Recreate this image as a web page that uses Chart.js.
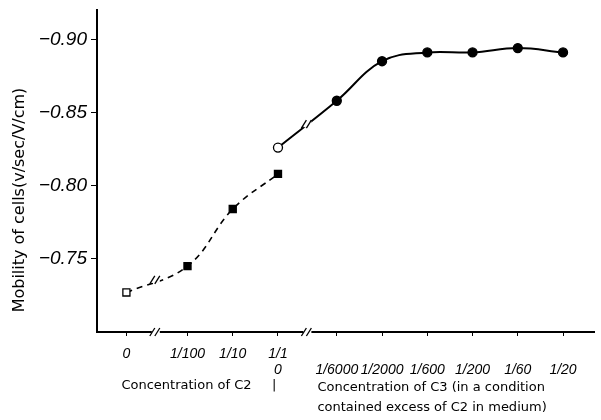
<!DOCTYPE html>
<html>
<head>
<meta charset="utf-8">
<script src="https://cdn.jsdelivr.net/npm/chart.js@4.4.1/dist/chart.umd.min.js"></script>
<style>
  body { margin: 0; background: #fff; }
  #wrap { width: 601px; height: 420px; }
</style>
</head>
<body>
<div id="wrap"><canvas id="myChart"></canvas></div>
<script>
// tick labels
var c2Labels = ["0", "1/100", "1/10", "1/1"];
var c3Labels = ["0", "1/6000", "1/2000", "1/600", "1/200", "1/60", "1/20"];
// where each concentration sits on the x axis (gaps left for the breaks)
var c2Pos = [0.65, 2, 3, 4];
var c3Pos = [4, 5.3, 6.3, 7.3, 8.3, 9.3, 10.3];
var breakPos = [1.3, 4.65];
// mobility of cells
var c2Values = [-0.727, -0.745, -0.784, -0.808];
var c3Values = [-0.826, -0.858, -0.885, -0.891, -0.891, -0.894, -0.891];
var yTicks = [-0.90, -0.85, -0.80, -0.75];

var xTickPos = c2Pos.concat(c3Pos.slice(1));
var xTickLabels = c2Labels.slice(0, 3).concat([[c2Labels[3], c3Labels[0]]]);
c3Labels.slice(1).forEach(function (l) { xTickLabels.push(["", l]); });

var toPoints = function (xs, ys) {
  return xs.map(function (x, i) { return { x: x, y: ys[i] }; });
};

var drawSlashes = function (ctx, px, py) {
  ctx.fillStyle = "#fff";
  ctx.fillRect(px - 4, py - 3, 8, 6);
  ctx.strokeStyle = "#000";
  ctx.lineWidth = 1.3;
  for (var k = 0; k < 2; k++) {
    var ox = px - 3 + k * 5;
    ctx.beginPath();
    ctx.moveTo(ox - 3, py + 4);
    ctx.lineTo(ox + 2, py - 4);
    ctx.stroke();
  }
};

var extrasPlugin = {
  id: "extras",
  afterDraw: function (chart) {
    var ctx = chart.ctx;
    var xs = chart.scales.x;
    var bottom = chart.chartArea.bottom;
    ctx.save();
    // breaks on the axis and on the curves
    breakPos.forEach(function (b, i) {
      var px = xs.getPixelForValue(b);
      drawSlashes(ctx, px, bottom);
      var pts = chart.getDatasetMeta(i).data;
      for (var k = 0; k < pts.length - 1; k++) {
        if (pts[k].x <= px && pts[k + 1].x >= px) {
          var t = (px - pts[k].x) / (pts[k + 1].x - pts[k].x);
          drawSlashes(ctx, px, pts[k].y + t * (pts[k + 1].y - pts[k].y));
        }
      }
    });
    // axis titles
    ctx.fillStyle = "#000";
    ctx.textBaseline = "middle";
    ctx.textAlign = "left";
    ctx.font = "13px 'DejaVu Sans'";
    var left2 = xs.getPixelForValue(c2Pos[0]) - 5;
    ctx.fillText("Concentration of C2", left2, 386);
    ctx.fillText("|", xs.getPixelForValue(c2Pos[3]) - 6, 386);
    var left3 = xs.getPixelForValue(breakPos[1]) + 10;
    ctx.fillText("Concentration of C3 (in a condition", left3, 388);
    ctx.fillText("contained excess of C2 in medium)", left3, 408);
    ctx.translate(20, 200);
    ctx.rotate(-Math.PI / 2);
    ctx.textAlign = "center";
    ctx.font = "16px 'DejaVu Sans'";
    ctx.fillText("Mobility of cells(v/sec/V/cm)", 0, 0);
    ctx.restore();
  }
};

var ctx = document.getElementById("myChart");
var myChart = new Chart(ctx, {
  type: "line",
  data: {
    datasets: [{
      label: "C2",
      data: toPoints(c2Pos, c2Values),
      borderColor: "#000",
      borderWidth: 1.6,
      borderDash: [6, 5],
      tension: 0.4,
      pointStyle: "rect",
      pointRadius: 5,
      pointBorderWidth: 1.3,
      pointBorderColor: "#000",
      pointBackgroundColor: c2Values.map(function (v, i) { return i === 0 ? "#fff" : "#000"; }),
      fill: false
    }, {
      label: "C3",
      data: toPoints(c3Pos, c3Values),
      borderColor: "#000",
      borderWidth: 2,
      tension: 0.4,
      pointStyle: "circle",
      pointRadius: 4.5,
      pointBorderWidth: 1.3,
      pointBorderColor: "#000",
      pointBackgroundColor: c3Values.map(function (v, i) { return i === 0 ? "#fff" : "#000"; }),
      fill: false
    }]
  },
  options: {
    responsive: true,
    maintainAspectRatio: false,
    animation: false,
    layout: { padding: { top: 0, right: 0, left: 0, bottom: 0 } },
    plugins: { legend: { display: false }, tooltip: { enabled: false } },
    scales: {
      x: {
        type: "linear",
        min: 0,
        max: 11,
        border: { color: "#000", width: 2 },
        grid: { drawOnChartArea: false, color: "#000", tickLength: 4 },
        afterBuildTicks: function (scale) {
          scale.ticks = xTickPos.map(function (v) { return { value: v }; });
        },
        afterFit: function (scale) { scale.height = 88; },
        ticks: {
          autoSkip: false,
          maxRotation: 0,
          padding: 10,
          color: "#000",
          font: { family: "'Liberation Sans'", style: "italic", size: 14, lineHeight: 1.15 },
          callback: function (v, i) { return xTickLabels[i]; }
        }
      },
      y: {
        type: "linear",
        reverse: true,
        min: -0.92,
        max: -0.70,
        border: { color: "#000", width: 2 },
        grid: { drawOnChartArea: false, color: "#000", tickLength: 6 },
        afterBuildTicks: function (scale) {
          scale.ticks = yTicks.map(function (v) { return { value: v }; });
        },
        afterFit: function (scale) { scale.width = 97; scale.paddingTop = 10; },
        ticks: {
          padding: 4,
          color: "#000",
          font: { family: "'Liberation Sans'", style: "italic", size: 19, lineHeight: 1 },
          callback: function (v) { return "\u2212" + Math.abs(v).toFixed(2); }
        }
      }
    }
  },
  plugins: [extrasPlugin]
});
</script>
</body>
</html>
